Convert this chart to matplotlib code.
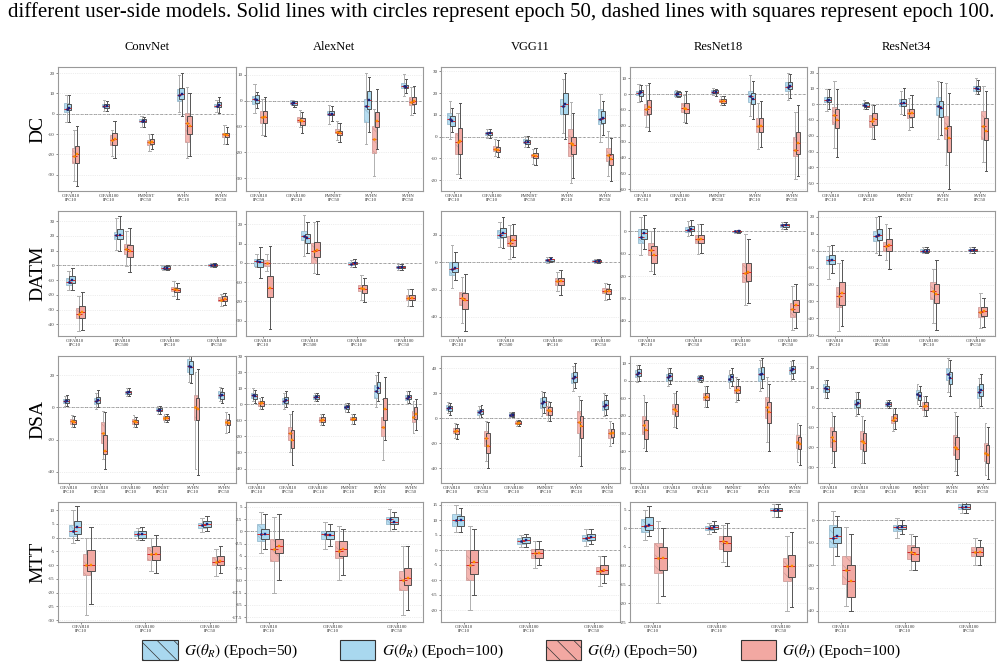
import numpy as np
import matplotlib
matplotlib.use("Agg")
import matplotlib.pyplot as plt
from matplotlib.patches import Patch

plt.rcParams.update({"font.family": "serif",
                     "font.serif": ["Liberation Serif", "DejaVu Serif"],
                     "mathtext.fontset": "stix", "hatch.linewidth": 0.5})

MODELS = ["ConvNet", "AlexNet", "VGG11", "ResNet18", "ResNet34"]
METHODS = ["DC", "DATM", "DSA", "MTT"]

# each box: (whisker low, q1, median, q3, whisker high)
# ── DC ──────────────────────────────────────────────────────────
DC_LABELS = [
    ["CIFAR10\nIPC10", "CIFAR100\nIPC10", "FMNIST\nIPC50", "SVHN\nIPC10", "SVHN\nIPC50"],
    ["CIFAR10\nIPC50", "CIFAR100\nIPC10", "FMNIST\nIPC50", "SVHN\nIPC10", "SVHN\nIPC50"],
    ["CIFAR10\nIPC10", "CIFAR100\nIPC10", "FMNIST\nIPC50", "SVHN\nIPC10", "SVHN\nIPC50"],
    ["CIFAR10\nIPC10", "CIFAR100\nIPC10", "FMNIST\nIPC50", "SVHN\nIPC10", "SVHN\nIPC50"],
    ["CIFAR10\nIPC10", "CIFAR100\nIPC10", "FMNIST\nIPC10", "SVHN\nIPC10", "SVHN\nIPC50"],
]
DC_R50 = [
    [(-4, 0.8, 2.5, 5.1, 9.3), (1.6, 3.2, 4, 4.8, 6.7), (-6.5, -4, -3.5, -2.4, -1), (1, 6.5, 9, 12, 19), (1, 3.2, 4, 5, 7)],
    [(-4.8, -1.2, 0.5, 1.7, 6.6), (-1.8, -1.3, -0.8, 0.1, 0.4), (-9.1, -5.5, -5, -3.9, -1.6), (-16.9, -8.3, -2, 0.8, 10.8), (1.9, 4.7, 5.5, 6.9, 10.4)],
    [(-1.2, 6, 8, 11, 16.3), (-0.5, 0.8, 1.5, 2.3, 3.4), (-4.7, -3, -2.5, -1.2, 0.3), (1.8, 10.2, 14, 17.5, 26.7), (-2.7, 5.6, 8, 12.5, 19.4)],
    [(-5.1, -0.8, 0.5, 2.1, 6.4), (-2.1, -1.1, 0, 1.7, 2.5), (-0.4, 0.6, 1.5, 2.5, 3.8), (-13.6, -5.1, -1.5, 2.1, 11.9), (-3.6, 2.1, 4.5, 7.6, 13.3)],
    [(-4.5, 1.1, 2.5, 4.7, 9.4), (-3.2, -1.1, -0.5, 0.9, 2.6), (-6, -1.3, 0.5, 3.2, 8.3), (-22.3, -7, -1.5, 4.7, 14.9), (6.4, 8.3, 10, 11.7, 16.6)],
]
DC_R100 = [
    [(-4.3, 1.9, 3, 4.8, 9.2), (1.5, 3, 4, 5, 6.5), (-6.5, -4.3, -3.5, -2.5, -1.5), (-1, 7.2, 9.5, 12.5, 20), (0.5, 3.5, 4.5, 6, 8)],
    [(-2.9, -0.9, 0.3, 2, 3.4), (-2.5, -1.6, -1, -0.3, 0), (-7.8, -5.7, -5, -4.2, -2.2), (-12.3, -3.1, 0.2, 3.9, 9), (2.9, 4.7, 5.3, 6.2, 8.4)],
    [(2.3, 4.9, 7.3, 9.5, 13), (-0.5, 0.8, 1.5, 2.3, 3.4), (-5, -3.2, -2.5, -1.4, 0.2), (-1.2, 10.5, 15, 20.2, 29.2), (0.8, 6.4, 8.5, 11.8, 16.6)],
    [(-4.2, -1.5, 1, 2.8, 5.5), (-1.7, -1.1, 0, 1.3, 2), (-1, 0.4, 1.5, 2.5, 3.4), (-15.7, -6.1, -3, 0.6, 8), (-2.5, 3.4, 5, 7.4, 12.7)],
    [(-3.4, 1.5, 2.5, 4.3, 9.4), (-2.8, -1.7, -1, 0.4, 1.5), (-7, -1.1, 0.5, 3.2, 10), (-19.4, -8.1, -2.5, 1.9, 14.3), (6.6, 8.5, 9.5, 11.5, 15.5)],
]
DC_I50 = [
    [(-33, -24, -21, -17, -8), (-21, -15.2, -13, -10.4, -8), (-18.5, -15.2, -14, -12.8, -10), (-22, -14, -4.5, 0.3, 13), (-15, -11.2, -10, -9.3, -5.5)],
    [(-13.5, -8.7, -6.5, -4.2, 0.8), (-10.3, -8.3, -7.5, -6.5, -3.5), (-15.1, -12.6, -12, -11, -8), (-29, -20.4, -15, -9.7, -3.2), (-5.5, -1.6, -0.5, 1.3, 5.2)],
    [(-17.3, -8, -2.5, 1.8, 10.7), (-8.9, -6.6, -5.5, -4.4, -1.2), (-12.7, -9.6, -8.5, -7.8, -5.8), (-21.5, -8.9, -3, 3.4, 16), (-18, -11.1, -8.5, -5.3, 2.6)],
    [(-20.6, -13.1, -9.5, -6.4, 5.9), (-17.4, -11.4, -9, -5.7, -0.4), (-6.8, -5.3, -4.5, -3.2, -1.3), (-34.7, -23.7, -20, -15.3, -5.7), (-53.4, -39, -35, -26.9, -11)],
    [(-27.9, -12.3, -7, -1.7, 14.7), (-22.3, -14.5, -10.5, -6.6, -0.6), (-16.6, -8.7, -5.5, -3.2, 3.6), (-38.3, -21.9, -15, -7.4, 13.2), (-36.8, -21.9, -14, -4.5, 11.7)],
]
DC_I100 = [
    [(-35.5, -24, -20, -16, -6), (-22, -15.2, -12.5, -9.6, -3.5), (-17.5, -14.7, -13.8, -12.5, -10), (-21, -10, -6, -1, 10), (-15, -11.5, -10.5, -9.6, -6.5)],
    [(-13.9, -8.7, -6.5, -4.2, 1.3), (-12.6, -9.4, -8, -6.8, -4.4), (-16.2, -13.5, -12.5, -11.6, -8.7), (-18.7, -10.4, -8, -4.5, 4.3), (-4.8, -1.3, 0, 1.3, 5.6)],
    [(-18.8, -8.1, -2, 4.1, 15.3), (-9.6, -7.3, -6, -4.7, -1.7), (-13, -9.9, -9, -7.6, -5.3), (-19.1, -8.1, -4, -0.2, 11), (-20.3, -13, -10.5, -8.1, -0.8)],
    [(-23.3, -12.5, -8, -3.6, 7.2), (-18.4, -12, -9.5, -5.9, 2.1), (-7, -5.5, -4.5, -3.2, -1.5), (-33.3, -24.2, -20, -15.3, -4.7), (-51.7, -37.5, -31, -23.7, -7.2)],
    [(-33.2, -15.1, -10, -2.8, 9.8), (-22.3, -13.4, -9.5, -5.5, -0.6), (-14.5, -8.1, -5.5, -2.8, 5.7), (-54, -30.4, -21.5, -14, 7), (-42.1, -23, -17, -9.1, 8.3)],
]
DC_YLIM = [(-38, 23), (-35, 13), (-25, 32), (-61, 17), (-55, 23.5)]
DC_STEP = [10, 10, 10, 10, 10]

# ── DATM ────────────────────────────────────────────────────────
DATM_LABELS = [
    ["CIFAR10\nIPC10", "CIFAR10\nIPC500", "CIFAR100\nIPC10", "CIFAR100\nIPC50"],
    ["CIFAR10\nIPC10", "CIFAR10\nIPC500", "CIFAR100\nIPC10", "CIFAR100\nIPC50"],
    ["CIFAR10\nIPC10", "CIFAR10\nIPC500", "CIFAR100\nIPC10", "CIFAR100\nIPC50"],
    ["CIFAR10\nIPC10", "CIFAR10\nIPC50", "CIFAR100\nIPC10", "CIFAR100\nIPC50"],
    ["CIFAR10\nIPC10", "CIFAR10\nIPC500", "CIFAR100\nIPC10", "CIFAR100\nIPC50"],
]
DATM_R50 = [
    [(-16.6, -13.2, -11, -8.6, -3.6), (10.2, 18, 20.5, 23, 32.3), (-3.2, -2.3, -1.5, -0.7, 0.2), (-1.4, -0.5, 0, 0.7, 1.6)],
    [(-2.3, -1.7, 1, 2.1, 4.7), (3.8, 11.8, 14, 16.5, 24.7), (-2.3, -0.9, -0.3, 0.5, 1.7), (-3.5, -2.8, -2.2, -1.7, -0.7)],
    [(-18.9, -9.2, -5, 0, 12.8), (10.9, 17.4, 20, 23.7, 29.5), (-0.5, 0.5, 1.5, 2.4, 3.6), (-0.7, 0, 0.7, 1.5, 2.2)],
    [(-10.4, -5.2, -2.5, 1, 6.4), (-2.2, -0.3, 0.7, 1.8, 4.5), (-0.7, -0.4, 0, 0.3, 0.7), (1, 1.9, 2.7, 3.4, 4)],
    [(-16.5, -8.1, -5.5, -3.1, 2.8), (-1.2, 5.7, 8.5, 11.6, 20), (-1.6, -0.8, 0, 0.8, 2.4), (-1.2, -0.4, 0.5, 1.2, 2)],
]
DATM_R100 = [
    [(-16.6, -12, -10, -7.5, -1.8), (10, 18.2, 21, 24.8, 33.4), (-3.2, -2.3, -1.5, -0.7, 0.2), (-1.4, -0.5, 0, 0.7, 1.6)],
    [(-7.8, -2.3, 0.3, 2.1, 8.2), (4.9, 10.4, 13, 15.1, 21.2), (-2.3, -0.7, 0, 0.7, 2), (-3.5, -2.8, -2.2, -1.7, -0.7)],
    [(-13.3, -7.3, -4, 0, 7.3), (10.2, 18.6, 21.5, 25.4, 33.4), (0, 0.7, 2, 2.6, 3.6), (-0.7, 0, 0.7, 1.5, 2.2)],
    [(-7.9, -3.4, -1, 1.2, 7), (-1.9, 0, 1.2, 2.2, 5.2), (-0.7, -0.4, 0, 0.3, 0.7), (1, 1.9, 2.7, 3.4, 4)],
    [(-13.4, -7.7, -5.5, -2.6, 3.3), (-2.8, 6.3, 9.5, 13, 20.5), (-1.6, -0.8, 0, 0.8, 2.4), (-1.2, -0.4, 0.5, 1.2, 2)],
]
DATM_I50 = [
    [(-44.3, -36, -33, -29, -21), (-0.2, 7.7, 11, 14.8, 23.2), (-21.1, -17.7, -16, -14.8, -10.9), (-27.5, -24.5, -23.5, -21.6, -19.5)],
    [(-4.3, -1.4, 0, 1.4, 4.7), (-5.2, 0, 6, 10.4, 21.2), (-19.1, -14.8, -13, -11.3, -6.1), (-22.6, -19.1, -18, -16.9, -13.6)],
    [(-44.8, -31, -26.5, -21.8, -10.9), (2.4, 11.6, 14, 18.9, 27.1), (-21.3, -16.5, -14, -11.6, -7.3), (-27.4, -22.8, -21, -18.9, -15)],
    [(-17.6, -10.4, -8.5, -5.2, 0), (-10, -5.2, -3.5, -1.9, 3.4), (-32.8, -22.8, -18.5, -14.2, -1.2), (-44, -38.1, -34.5, -31.8, -24.6)],
    [(-47.4, -33, -27, -21.7, -7.5), (-5.7, -0.2, 3, 5.3, 15.5), (-42.9, -28.7, -24, -18.5, -10.6), (-45.5, -39, -36.5, -33, -24.8)],
]
DATM_I100 = [
    [(-43.9, -36, -32, -27.5, -18.2), (-4.8, 5.5, 10, 14, 25.5), (-23, -18.4, -17, -15.5, -12), (-27, -24.5, -23, -21.1, -18.9)],
    [(-34.4, -17.7, -13, -6.6, 8.7), (-5.6, 3, 6.5, 11, 21.9), (-20.3, -15.7, -13.5, -11.7, -7.8), (-22.6, -19.1, -18, -16.9, -13.6)],
    [(-50.1, -33.9, -28, -22.5, -8.5), (3.6, 12.1, 16, 20.1, 28.3), (-24.2, -16.5, -14, -11.4, -6), (-26.6, -23, -21, -19.4, -16)],
    [(-19, -14.2, -10.5, -6.4, 1.5), (-9.7, -5.2, -3.5, -1.9, 3.3), (-31.8, -22.4, -18, -14.2, -3.4), (-43.3, -35.8, -33, -30.6, -23.6)],
    [(-44.5, -32.3, -25, -18.8, -5.7), (-10.6, -0.2, 3.5, 7.1, 13.6), (-47, -31.1, -25.5, -19.9, -5.7), (-45.1, -38.6, -35.5, -33, -27.7)],
]
DATM_YLIM = [(-48, 37), (-38, 27), (-54, 37.5), (-46.7, 9), (-50.4, 23.4)]
DATM_STEP = [10, 10, 20, 10, 10]

# ── DSA ─────────────────────────────────────────────────────────
DSA_GROUPS = ["CIFAR10\nIPC10", "CIFAR10\nIPC50", "CIFAR100\nIPC10", "FMNIST\nIPC10", "SVHN\nIPC10", "SVHN\nIPC50"]
DSA_LABELS = [DSA_GROUPS] * 5
DSA_R50 = [
    [(1, 2.5, 4, 5.5, 7), (-1, 2, 4, 6, 9), (7, 8.5, 9.5, 10.5, 12), (-4, -2.5, -1.5, -0.5, 1), (16, 22, 26, 30, 35), (4, 6, 8, 10, 13)],
    [(2, 4, 5.5, 7, 10), (-3, 0, 2, 4, 7), (2, 3.5, 4.5, 5.5, 7), (-5, -3, -1.5, -0.5, 1), (-2, 4, 8, 12, 18), (0, 2.5, 4, 5.5, 8)],
    [(4, 6.5, 8.5, 10.5, 13), (0, 3, 5, 7, 10), (1, 2, 3, 4, 5), (2, 8, 12, 16, 22), (22, 28, 32, 36, 42), (2, 7, 10, 14, 20)],
    [(-1, 2, 4, 6, 9), (-3, 0, 2, 4, 7), (-1, 0.5, 1.5, 2.5, 3.5), (-4, -1, 1, 3, 6), (-6, 0, 4, 7, 12), (0, 4, 6, 8, 11)],
    [(5, 8, 10, 12, 14), (-4, 0, 2, 4, 8), (0, 1, 2, 3, 4), (2, 5, 7, 9, 12), (8, 14, 17, 20, 25), (0, 5, 8, 11, 15)],
]
DSA_R100 = [
    [(1, 2.5, 4, 5.5, 7.5), (0, 2.5, 4.5, 6.5, 11), (7, 8.5, 9.5, 10.5, 12), (-4, -2.5, -1.5, -0.5, 1), (15, 21, 25, 29, 33), (3, 5.5, 7.5, 9.5, 12)],
    [(1, 3.5, 5, 6.5, 9), (-2, 0.5, 2.5, 4.5, 8), (2, 3.5, 4.5, 5.5, 7), (-5, -3, -2, -0.5, 1), (2, 7, 10, 14, 20), (1, 3, 4.5, 6, 8)],
    [(3, 6, 8, 10, 12), (1, 3.5, 5.5, 7.5, 11), (1, 2, 3, 4, 5), (4, 9, 13, 17, 21), (24, 29, 33, 37, 44), (3, 7.5, 11, 14.5, 19)],
    [(0, 2.5, 4.5, 6.5, 9), (-2, 0.5, 2.5, 4.5, 7), (-1, 0.5, 1.5, 2.5, 3.5), (-3, 0, 2, 4, 7), (-4, 1, 4, 8, 13), (1, 4.5, 6.5, 8.5, 12)],
    [(5, 8, 9.5, 11, 14), (-3, 0.5, 2.5, 4.5, 8), (0, 1, 2, 3, 4), (1, 4, 6, 8, 11), (6, 12, 15, 18, 24), (1, 6, 9, 12, 17)],
]
DSA_I50 = [
    [(-12, -10, -8.5, -7, -5), (-32, -22, -16, -9, -2), (-12, -10, -8.5, -7, -5), (-9, -7.5, -6.5, -5.5, -4), (-38, -8, 0, 8, 22), (-16, -11, -9, -7, -3)],
    [(-3, -1, 0.5, 2, 4), (-30, -22, -18, -14, -6), (-13, -11, -9.5, -8, -6), (-12, -10, -9, -8, -6), (-35, -20, -14, -8, 3), (-18, -11, -8, -4, 2)],
    [(-16, -12, -10, -7.5, -4), (-34, -22, -16, -10, -2), (-6, -4.5, -3.5, -2.5, -1), (-2, 3, 7, 10, 14), (-30, -12, -3, 6, 18), (-22, -16, -12, -9, -2)],
    [(-38, -30, -25, -20, -8), (-26, -19, -16, -13, -7), (-15, -11, -9, -7, -3), (-12, -7, -5, -3, 2), (-35, -21, -15, -9, 2), (-46, -38, -35, -31, -24)],
    [(-28, -20, -15, -10, -2), (-28, -21, -17, -12, -4), (-12, -8, -6, -4, 0), (-4, -1, 1, 3, 6), (-32, -24, -20, -14, -2), (-34, -27, -23, -18, -8)],
]
DSA_I100 = [
    [(-12, -10.5, -9, -7.5, -5.5), (-38, -29, -27, -17, -3), (-12, -10.5, -9, -7.5, -6), (-9, -7.5, -6.5, -5.5, -4), (-42, -8, -1, 6, 24), (-15, -11, -9.5, -7.5, -4)],
    [(-3, -1, 0.5, 2, 4.5), (-38, -27, -22, -16, -4), (-13, -11, -9.5, -8, -6), (-12, -10, -9, -8, -6), (-22, -10, -3, 4, 17), (-16, -9, -6, -2, 3)],
    [(-17, -13, -10.5, -8, -5), (-40, -28, -22, -12, -3), (-6, -4.5, -3.5, -2.5, -1), (-2, 3, 6, 9, 13), (-38, -16, -6, 2, 15), (-20, -15, -12, -9, -4)],
    [(-40, -33, -28, -22, -12), (-27, -20, -17, -13, -6), (-15, -11, -9, -7, -3), (-11, -7, -5, -3, 1), (-40, -24, -18, -12, -2), (-48, -39, -36, -32, -25)],
    [(-30, -22, -17, -12, -4), (-28, -22, -18, -13, -6), (-11, -7, -5, -3, 0), (-4, -1, 1, 3, 6), (-34, -26, -21, -15, -4), (-36, -28, -24, -19, -10)],
]
DSA_YLIM = [(-47, 32), (-49, 30), (-52, 50), (-58, 14), (-38, 26)]
DSA_STEP = [20, 10, 20, 10, 10]

# ── MTT ─────────────────────────────────────────────────────────
MTT_GROUPS = ["CIFAR10\nIPC10", "CIFAR100\nIPC10", "CIFAR100\nIPC50"]
MTT_LABELS = [MTT_GROUPS] * 5
MTT_R50 = [
    [(-2, 0.5, 2.5, 4.5, 10), (-1, 0.5, 1.5, 2.5, 3.5), (2, 3.5, 4.5, 5.5, 7)],
    [(-4.5, -2, -0.5, 1.5, 4), (-3.5, -1.5, -0.5, 0, 2), (0, 1.5, 2.5, 3, 4.5)],
    [(6, 8, 10, 12, 15), (1, 2, 3, 4, 5), (1.5, 3, 4, 5, 7)],
    [(-3, -1, 0.5, 2.5, 5), (-1.5, -0.5, 0, 0.5, 1.5), (3, 4.5, 5, 5.5, 6.5)],
    [(-20, -12, -8, -2, 4), (-8, -5, -3, -2, 1), (3, 5, 6, 7, 8)],
]
MTT_R100 = [
    [(-1, 1.5, 4, 6, 11.5), (-1, 0, 1.5, 2.5, 4), (2.5, 4, 5, 6, 8)],
    [(-3.5, -1.5, -0.5, 0.5, 3.5), (-3, -1.5, -0.8, 0, 1.5), (0.5, 1.5, 2, 3, 4)],
    [(6, 8, 10, 11.5, 14), (1, 2.5, 3.5, 4.5, 5.5), (2, 3.5, 4.5, 5.5, 7)],
    [(-2, -0.5, 1, 3, 6), (-1, -0.3, 0.3, 1, 2), (3, 4.5, 5, 5.5, 6.5)],
    [(-16, -10, -7, -3, 2), (-6, -4, -3, -2, 0), (3, 5, 6, 7, 8)],
]
MTT_I50 = [
    [(-28, -13.5, -10, -6, 0), (-12, -8, -6, -3.5, 0), (-14, -10, -9, -7, -4)],
    [(-12.5, -6, -3.5, -1.5, 3), (-10, -5.5, -4, -2, 1), (-17, -12, -10, -8, -3)],
    [(-20, -10, -5, 0, 8), (-6, -2.5, -1, 0.5, 3), (-12, -8, -7, -5.5, -2)],
    [(-20, -12, -8, -4, 2), (-9, -5.5, -3.5, -2, 1), (-22, -14, -10, -8, -2)],
    [(-38, -28, -22, -16, -3), (-22, -17, -14, -11, -6), (-20, -16, -14, -12, -8)],
]
MTT_I100 = [
    [(-24, -12, -10, -4.5, 4), (-13, -8, -6, -3, 1), (-13, -10, -8.5, -6.5, -3)],
    [(-10, -4.5, -3, -1.5, 3.5), (-9, -5, -3.5, -2, 0.5), (-16, -11, -9.5, -7.5, -3)],
    [(-15, -8, -4, 0, 7), (-5, -2.5, -1, 0.5, 3), (-11, -8, -6.5, -5, -2)],
    [(-18, -11, -8, -5, 0), (-10, -6, -4, -2, 1.5), (-21, -13, -10, -7, -1)],
    [(-40, -34, -27, -20, -6), (-22, -18, -15, -12, -7), (-20, -16, -14, -12, -9)],
]
MTT_YLIM = [(-30.7, 13), (-18.5, 6), (-24, 16), (-25, 7), (-45, 8)]
MTT_STEP = [5, 2.5, 5, 5, 10]

ROWS = [
    (DC_LABELS, DC_R50, DC_R100, DC_I50, DC_I100, DC_YLIM, DC_STEP),
    (DATM_LABELS, DATM_R50, DATM_R100, DATM_I50, DATM_I100, DATM_YLIM, DATM_STEP),
    (DSA_LABELS, DSA_R50, DSA_R100, DSA_I50, DSA_I100, DSA_YLIM, DSA_STEP),
    (MTT_LABELS, MTT_R50, MTT_R100, MTT_I50, MTT_I100, MTT_YLIM, MTT_STEP),
]

BLUE = "#a9d8ef"
RED = "#f2a8a2"
# (face, edge, hatch, alpha, whisker colour, mean colour, mean marker)
STYLES = [
    (BLUE, "#8fb3c8", "\\\\\\", 0.85, "#b0b0b0", "#1a237e", "o"),
    (BLUE, "#3a3a3a", "", 1.0, "#555555", "#1a237e", "s"),
    (RED, "#c99490", "\\\\\\", 0.85, "#b0b0b0", "#ff8c00", "o"),
    (RED, "#3a3a3a", "", 1.0, "#555555", "#ff8c00", "s"),
]
OFFS = [-0.12, -0.05, 0.09, 0.16]
WIDTH = 0.12

W, H = 1003, 669
COLS_X = [(58, 236), (246, 423), (441, 620), (630, 807), (818, 995)]
ROWS_Y = [(67, 191), (211, 336), (356, 483), (502, 622)]

fig = plt.figure(figsize=(W / 100, H / 100), dpi=100)

fig.text(8 / W, 1 - 12 / H,
         "different user-side models. Solid lines with circles represent epoch 50, "
         "dashed lines with squares represent epoch 100.",
         fontsize=15, va="center", ha="left")


def draw_panel(ax, labels, series, ylim, step):
    n = len(labels)
    for vals, (fc, ec, hatch, alpha, wc, mc, mk), off in zip(series, STYLES, OFFS):
        stats = [dict(whislo=v[0], q1=v[1], med=v[2], q3=v[3], whishi=v[4],
                      mean=v[2]) for v in vals]
        ax.bxp(stats, positions=np.arange(n) + off, widths=WIDTH,
               patch_artist=True, showmeans=True, showfliers=False,
               manage_ticks=False,
               boxprops=dict(facecolor=fc, edgecolor=ec, linewidth=0.6,
                             alpha=alpha, hatch=hatch),
               whiskerprops=dict(color=wc, linewidth=0.7),
               capprops=dict(color=wc, linewidth=0.7),
               medianprops=dict(color="#d62728", linewidth=0.7),
               meanprops=dict(marker=mk, markersize=1.6, markerfacecolor=mc,
                              markeredgecolor=mc, markeredgewidth=0.3))
    ax.axhline(0, color="#888888", ls="--", lw=0.6, zorder=0)
    ax.set_xlim(-0.35, n - 1 + 0.4)
    ax.set_ylim(*ylim)
    ticks = np.arange(np.ceil(ylim[0] / step) * step, ylim[1] + 1e-9, step)
    ax.set_yticks(ticks)
    ax.set_yticklabels([f"{t:g}" for t in ticks], fontsize=3.6)
    ax.yaxis.grid(True, ls=":", color="#dddddd", lw=0.5)
    ax.set_axisbelow(True)
    ax.set_xticks(np.arange(n))
    ax.set_xticklabels(labels, fontsize=3.4, linespacing=0.9)
    ax.tick_params(length=1.5, width=0.4, pad=1, colors="#333333")
    for s in ax.spines.values():
        s.set_color("#999999")
        s.set_linewidth(0.8)


for r, (labels, r50, r100, i50, i100, ylims, steps) in enumerate(ROWS):
    y0, y1 = ROWS_Y[r]
    for c in range(5):
        x0, x1 = COLS_X[c]
        ax = fig.add_axes([x0 / W, 1 - y1 / H, (x1 - x0) / W, (y1 - y0) / H])
        draw_panel(ax, labels[c], [r50[c], r100[c], i50[c], i100[c]],
                   ylims[c], steps[c])
    fig.text(38 / W, 1 - (y0 + y1) / 2 / H, METHODS[r], rotation=90,
             fontsize=14, ha="center", va="center")

for c, name in enumerate(MODELS):
    x0, x1 = COLS_X[c]
    fig.text((x0 + x1) / 2 / W, 1 - 47 / H, name, fontsize=9,
             ha="center", va="center")

handles = [
    Patch(facecolor=BLUE, edgecolor="#333333", hatch="\\\\", lw=0.8),
    Patch(facecolor=BLUE, edgecolor="#333333", lw=0.8),
    Patch(facecolor=RED, edgecolor="#333333", hatch="\\\\", lw=0.8),
    Patch(facecolor=RED, edgecolor="#333333", lw=0.8),
]
leg_labels = [r"$G(\theta_R)$ (Epoch=50)", r"$G(\theta_R)$ (Epoch=100)",
              r"$G(\theta_I)$ (Epoch=50)", r"$G(\theta_I)$ (Epoch=100)"]
fig.legend(handles, leg_labels, loc="center", bbox_to_anchor=(0.52, 1 - 650 / H),
           ncol=4, frameon=False, fontsize=11, handlelength=2.3,
           handleheight=1.6, columnspacing=2.8, handletextpad=0.4)

fig.savefig("out.png", dpi=100)
